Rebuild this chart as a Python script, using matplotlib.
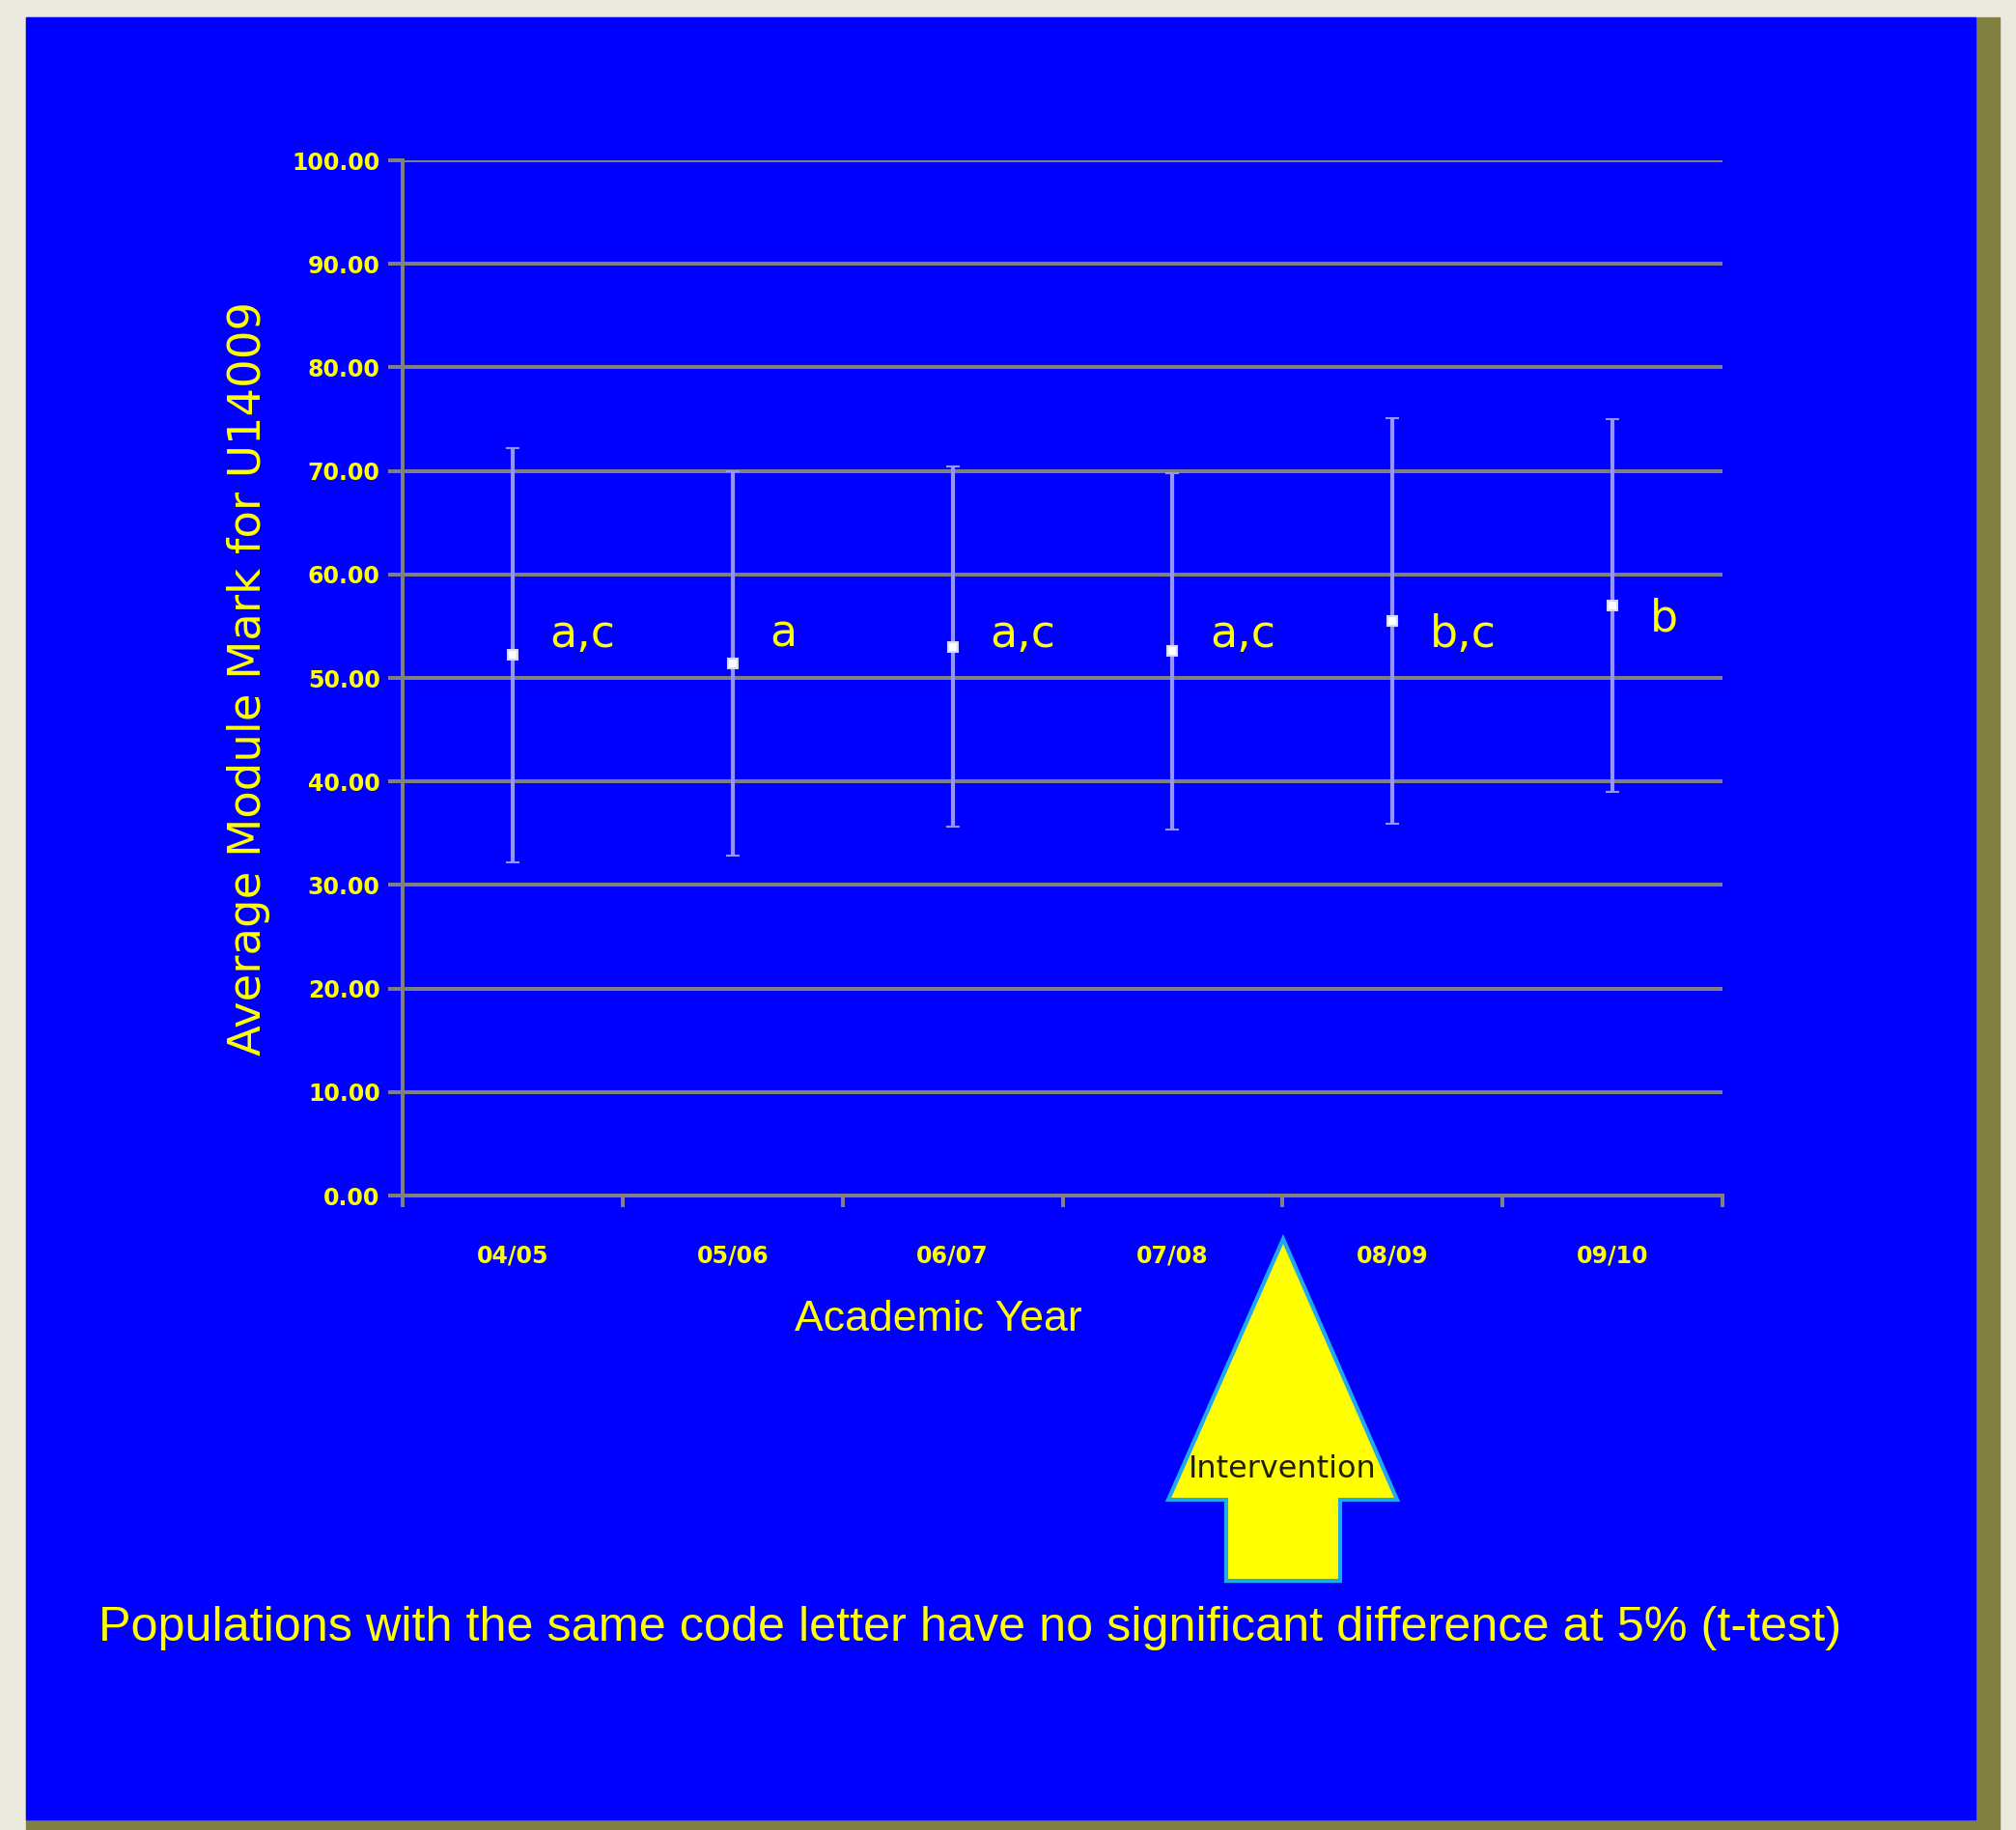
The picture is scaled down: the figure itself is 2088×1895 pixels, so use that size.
import numpy as np
import matplotlib.pyplot as plt
from matplotlib.patches import Rectangle, Polygon
from matplotlib.ticker import FormatStrFormatter

# data
years = ["04/05", "05/06", "06/07", "07/08", "08/09", "09/10"]
means = np.array([52.2, 51.4, 53.0, 52.6, 55.5, 57.0])
spread = np.array([20.0, 18.6, 17.4, 17.2, 19.6, 18.0])
codes = ["a,c", "a", "a,c", "a,c", "b,c", "b"]
yticks = np.arange(0, 101, 10)

W, H = 2088, 1895
BLUE = '#0000FF'
YELLOW = '#FFFF00'
GREY = '#808080'


def fx(px):
    return px / W


def fy(py):
    return 1 - py / H  # pixel rows from top -> figure fraction


def fit_width(t, target):
    # shrink/grow fontsize so the text spans target pixels
    r = fig.canvas.get_renderer()
    w = t.get_window_extent(renderer=r).width
    t.set_fontsize(t.get_fontsize() * target / w)


fig = plt.figure(figsize=(W / 100, H / 100), dpi=100)
fig.patch.set_facecolor('#ECE9DE')
# slide panel + olive shadow
fig.add_artist(Rectangle((fx(27), 0), fx(2071 - 27), fy(18),
                         transform=fig.transFigure, color='#808040', zorder=-3))
fig.add_artist(Rectangle((fx(27), fy(1884)), fx(2046 - 27), (1884 - 18) / H,
                         transform=fig.transFigure, color=BLUE, zorder=-2))

ax = fig.add_axes([fx(417), fy(1238), fx(1784 - 417), (1238 - 166) / H])
ax.set_facecolor(BLUE)
ax.set_zorder(1)
x = np.arange(len(years))

ax.errorbar(x, means, yerr=spread, fmt='s', ms=7, mfc='white', mec='#D8D8FF', mew=1.5,
            ecolor='#9494FA', elinewidth=3, capsize=5, capthick=2.5, zorder=3)

for xi, m, c in zip(x, means, codes):
    ax.text(xi + 0.17, max(m - 2.5, 53.0), c, color=YELLOW, fontsize=33,
            ha='left', va='baseline', zorder=4)

ax.set_xlim(-0.5, len(years) - 0.5)
ax.set_ylim(0, 100)
ax.set_yticks(yticks)
ax.yaxis.set_major_formatter(FormatStrFormatter('%.2f'))
ax.yaxis.grid(True, color=GREY, lw=2.9)
ax.set_axisbelow(True)

ax.set_xticks(np.arange(-0.5, len(years), 1))
ax.set_xticklabels([])
ax.set_xticks(x, minor=True)
ax.set_xticklabels(years, minor=True)

for s in ['top', 'right']:
    ax.spines[s].set_visible(False)
for s in ['left', 'bottom']:
    ax.spines[s].set_color(GREY)
    ax.spines[s].set_linewidth(2.9)

ax.tick_params(axis='y', colors=GREY, labelcolor=YELLOW, length=10.8, width=2.9,
               pad=6, labelsize=17)
ax.tick_params(axis='x', which='major', colors=GREY, length=8.6, width=2.9)
ax.tick_params(axis='x', which='minor', length=0, pad=36, labelcolor=YELLOW, labelsize=17)
for lab in ax.get_yticklabels() + ax.get_xticklabels(minor=True):
    lab.set_fontweight('bold')

ylab = fig.text(fx(257), fy(702), "Average Module Mark for U14009", rotation=90, color=YELLOW,
                fontsize=30, ha='center', va='center')
xlab = fig.text(fx(972), fy(1366), "Academic Year", color=YELLOW, fontsize=37,
                family='Liberation Sans', ha='center', va='center')
note = fig.text(fx(1005), fy(1686),
                "Populations with the same code letter have no significant difference at 5% (t-test)",
                color=YELLOW, fontsize=40, family='Liberation Sans',
                ha='center', va='center')

# intervention arrow
arrow_px = [(1329, 1283), (1447, 1553), (1388, 1553), (1388, 1637),
            (1270, 1637), (1270, 1553), (1210, 1553)]
fig.add_artist(Polygon([(fx(a), fy(b)) for a, b in arrow_px], closed=True,
                       transform=fig.transFigure, facecolor=YELLOW,
                       edgecolor='#1EA8F0', lw=3, zorder=5))
arr_t = fig.text(fx(1328), fy(1522), "Intervention", color='#202000', fontsize=19,
                 ha='center', va='center', zorder=6)

fig.canvas.draw()
fit_width(xlab, 297)
fit_width(note, 1803)
fit_width(arr_t, 195)
r = fig.canvas.get_renderer()
h = ylab.get_window_extent(renderer=r).height
ylab.set_fontsize(ylab.get_fontsize() * 779 / h)

fig.savefig('out.png', dpi=100, facecolor=fig.get_facecolor())
